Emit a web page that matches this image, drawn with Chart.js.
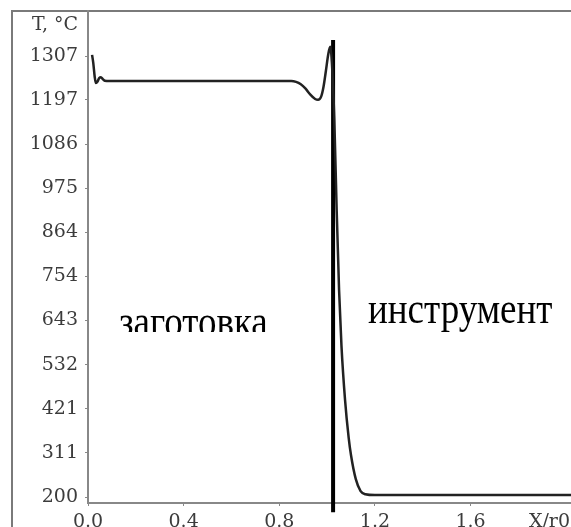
<!DOCTYPE html>
<html lang="ru">
<head>
<meta charset="UTF-8">
<title>T, °C</title>
<script src="https://cdn.jsdelivr.net/npm/chart.js@4.4.1/dist/chart.umd.min.js"></script>
<style>
  html, body { margin: 0; padding: 0; background: #fff; }
  #wrap { width: 571px; height: 527px; }
</style>
</head>
<body>
<div id="wrap"><canvas id="myChart" width="571" height="527"></canvas></div>
<script>
// temperature profile, T (°C) against X/r0
const xVals = [0.017, 0.022, 0.028, 0.033, 0.04, 0.047, 0.054, 0.062, 0.07, 0.09, 0.5, 0.85,
  0.87, 0.89, 0.91, 0.93, 0.95, 0.962, 0.975, 0.985, 0.995, 1.005, 1.013, 1.02, 1.03, 1.04,
  1.05, 1.06, 1.075, 1.09, 1.10, 1.12, 1.14, 1.16, 1.2, 2.02];
const tVals = [1310, 1290, 1255, 1239, 1243, 1252, 1254, 1249, 1245, 1244, 1244, 1244,
  1242, 1236, 1225, 1210, 1199, 1197, 1205, 1230, 1270, 1312, 1330, 1290, 1150, 920,
  720, 580, 444, 350, 305, 245, 215, 207, 205, 205];

// interface line (black vertical)
const borderX = [1.025, 1.025];
const borderT = [162, 1347];

const yTicks = [200, 311, 421, 532, 643, 754, 864, 975, 1086, 1197, 1307, 1385];
const yLabels = ['200', '311', '421', '532', '643', '754', '864', '975', '1086', '1197', '1307', 'T, °C'];
const xTicks = [0, 0.4, 0.8, 1.2, 1.6, 1.93];
const xLabels = ['0.0', '0.4', '0.8', '1.2', '1.6', 'X/r0'];

const leftText = 'заготовка';
const rightText = 'инструмент';

const tickFont = { family: 'DejaVu Serif', size: 19 };

const framePlugin = {
  id: 'frame',
  beforeDraw(chart) {
    const c = chart.ctx;
    c.save();
    c.strokeStyle = '#7a7a7a';
    c.lineWidth = 2;
    c.beginPath();
    c.moveTo(12, 527);
    c.lineTo(12, 11);
    c.lineTo(571, 11);
    c.stroke();
    c.restore();
  },
  afterDraw(chart) {
    const c = chart.ctx;
    c.save();
    // left caption, clipped at the bottom of its box
    c.fillStyle = '#fff';
    c.fillRect(115, 297, 167, 35);
    c.beginPath();
    c.rect(115, 297, 167, 35);
    c.clip();
    c.fillStyle = '#000';
    c.font = '37px "Liberation Serif"';
    c.translate(119, 336);
    c.scale(1, 1.2);
    c.fillText(leftText, 0, 0);
    c.restore();

    c.save();
    c.fillStyle = '#fff';
    c.fillRect(365, 283, 198, 45);
    c.fillStyle = '#000';
    c.font = '37px "Liberation Serif"';
    c.translate(368, 323);
    c.scale(1, 1.2);
    c.fillText(rightText, 0, 0);
    c.restore();
  }
};

const ctx = document.getElementById('myChart').getContext('2d');
const myChart = new Chart(ctx, {
  type: 'line',
  data: {
    datasets: [{
      data: xVals.map((x, i) => ({ x: x, y: tVals[i] })),
      borderColor: '#222',
      borderWidth: 2.5,
      pointRadius: 0,
      cubicInterpolationMode: 'monotone'
    }, {
      data: borderX.map((x, i) => ({ x: x, y: borderT[i] })),
      borderColor: '#000',
      borderWidth: 4,
      pointRadius: 0,
      clip: false
    }]
  },
  options: {
    responsive: false,
    animation: false,
    layout: { padding: { top: 11, left: 0, right: 0, bottom: 0 } },
    plugins: { legend: { display: false }, tooltip: { enabled: false } },
    scales: {
      x: {
        type: 'linear',
        min: 0,
        max: 2.02,
        afterBuildTicks: s => { s.ticks = xTicks.map(v => ({ value: v })); },
        afterFit: s => { s.height = 24; s.paddingLeft = 0; s.paddingRight = 0; },
        ticks: {
          font: tickFont,
          color: '#3c3c3c',
          padding: 5,
          maxRotation: 0,
          autoSkip: false,
          callback: (v, i) => xLabels[i]
        },
        grid: {
          drawOnChartArea: false,
          tickLength: 3,
          tickColor: c => (c.tick && c.tick.value === 1.93) ? 'rgba(0,0,0,0)' : '#888'
        },
        border: { color: '#888', width: 2 }
      },
      y: {
        min: 185,
        max: 1420,
        afterBuildTicks: s => { s.ticks = yTicks.map(v => ({ value: v })); },
        afterFit: s => { s.width = 88; s.paddingTop = 0; s.paddingBottom = 0; },
        ticks: {
          font: tickFont,
          color: '#3c3c3c',
          padding: 7,
          autoSkip: false,
          callback: (v, i) => yLabels[i]
        },
        grid: {
          drawOnChartArea: false,
          tickLength: 3,
          tickColor: c => (c.tick && c.tick.value === 1385) ? 'rgba(0,0,0,0)' : '#888'
        },
        border: { color: '#888', width: 2 }
      }
    }
  },
  plugins: [framePlugin]
});
</script>
</body>
</html>
